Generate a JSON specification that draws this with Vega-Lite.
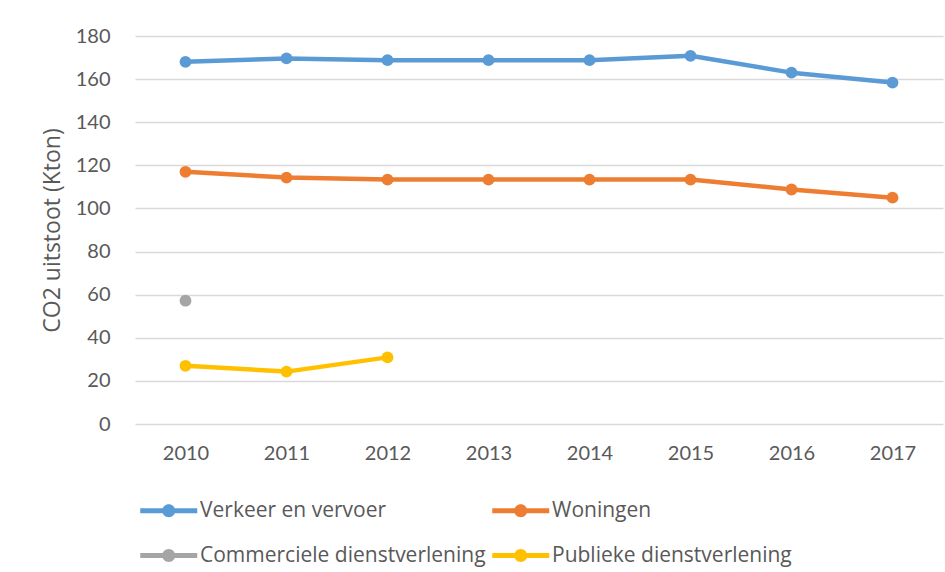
{
  "$schema": "https://vega.github.io/schema/vega-lite/v6.json",
  "autosize": {"type": "none"},
  "width": 808,
  "height": 388,
  "padding": {"left": 135, "top": 36, "right": 2, "bottom": 148},
  "background": "white",
  "config": {
    "font": "Lato",
    "view": {"stroke": null},
    "axis": {"labelColor": "#595959", "titleColor": "#595959", "labelFont": "Lato", "titleFont": "Open Sans"}
  },
  "data": {
    "values": [
      {"year": "2010", "series": "Verkeer en vervoer", "value": 168},
      {"year": "2011", "series": "Verkeer en vervoer", "value": 169.6},
      {"year": "2012", "series": "Verkeer en vervoer", "value": 168.8},
      {"year": "2013", "series": "Verkeer en vervoer", "value": 168.8},
      {"year": "2014", "series": "Verkeer en vervoer", "value": 168.8},
      {"year": "2015", "series": "Verkeer en vervoer", "value": 170.8},
      {"year": "2016", "series": "Verkeer en vervoer", "value": 163},
      {"year": "2017", "series": "Verkeer en vervoer", "value": 158.4},
      {"year": "2010", "series": "Woningen", "value": 117},
      {"year": "2011", "series": "Woningen", "value": 114.3},
      {"year": "2012", "series": "Woningen", "value": 113.4},
      {"year": "2013", "series": "Woningen", "value": 113.4},
      {"year": "2014", "series": "Woningen", "value": 113.4},
      {"year": "2015", "series": "Woningen", "value": 113.4},
      {"year": "2016", "series": "Woningen", "value": 108.8},
      {"year": "2017", "series": "Woningen", "value": 105},
      {"year": "2010", "series": "Commerciele dienstverlening", "value": 57.2},
      {"year": "2010", "series": "Publieke dienstverlening", "value": 27},
      {"year": "2011", "series": "Publieke dienstverlening", "value": 24.3},
      {"year": "2012", "series": "Publieke dienstverlening", "value": 30.9}
    ]
  },
  "encoding": {
    "x": {
      "field": "year", "type": "ordinal",
      "axis": {"title": null, "labelAngle": 0, "domain": false, "ticks": false, "tickSize": 0, "labelPadding": 19, "labelFontSize": 20, "grid": false}
    },
    "y": {
      "field": "value", "type": "quantitative",
      "scale": {"domain": [0, 180], "nice": false},
      "axis": {"title": "CO2 uitstoot (Kton)", "values": [0, 20, 40, 60, 80, 100, 120, 140, 160, 180], "domain": false, "ticks": false, "tickSize": 0, "labelPadding": 25, "labelFontSize": 20, "titleFontSize": 23, "titleFontWeight": "normal", "titlePadding": 11, "gridColor": "#D9D9D9", "gridWidth": 1.5}
    },
    "color": {
      "field": "series", "type": "nominal",
      "scale": {
        "domain": ["Verkeer en vervoer", "Woningen", "Commerciele dienstverlening", "Publieke dienstverlening"],
        "range": ["#5B9BD5", "#ED7D31", "#A5A5A5", "#FFC000"]
      },
      "legend": {
        "title": null,
        "orient": "none",
        "legendX": 5,
        "legendY": 460,
        "columns": 2,
        "direction": "horizontal",
        "rowPadding": 20,
        "columnPadding": 6,
        "labelFontSize": 21,
        "labelColor": "#595959",
        "labelFont": "Open Sans",
        "labelLimit": 0,
        "labelOffset": 31,
        "symbolSize": 812,
        "symbolStrokeWidth": 0,
        "symbolType": "M-1,-0.175L3,-0.175L3,0.175L-1,0.175Z M0.544,0A0.456,0.456 0 1,1 1.456,0A0.456,0.456 0 1,1 0.544,0Z",
        "encode": {"symbols": {"update": {"fill": {"scale": "color", "field": "value"}, "stroke": {"value": "transparent"}, "opacity": {"value": 1}}}}
      }
    }
  },
  "layer": [
    {"mark": {"type": "line", "strokeWidth": 4.5, "strokeCap": "round", "strokeJoin": "round"}},
    {"mark": {"type": "point", "filled": true, "size": 140, "opacity": 1}}
  ]
}
